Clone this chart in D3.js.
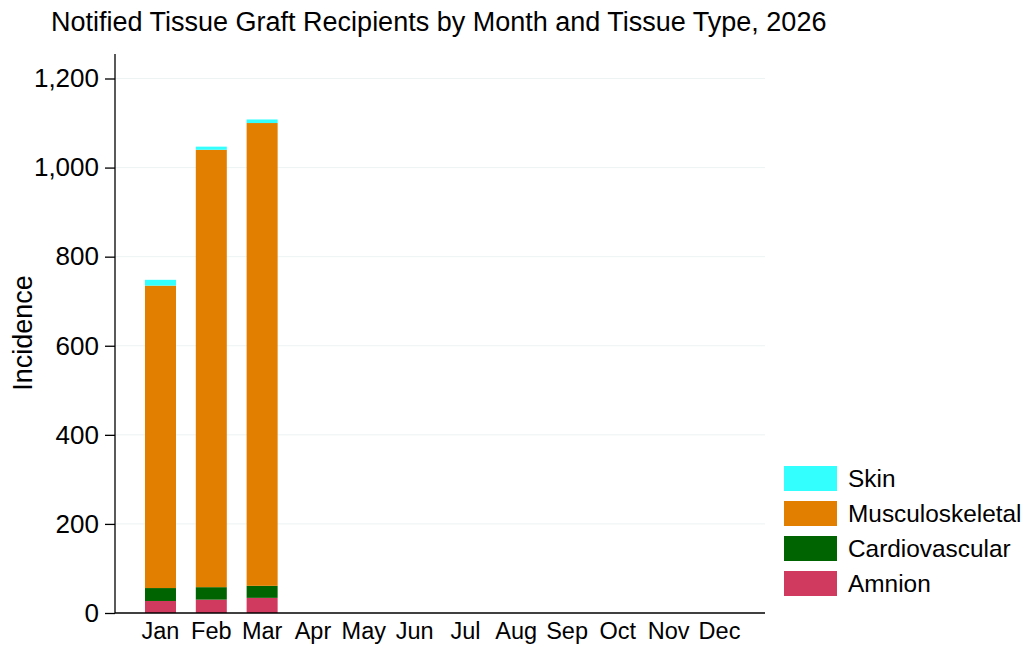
<!DOCTYPE html>
<html>
<head>
<meta charset="utf-8">
<script src="https://cdn.jsdelivr.net/npm/d3@7"></script>
<style>
  body { margin: 0; background: #fff; }
  text { font-family: "Liberation Sans", Arial, sans-serif; fill: #000; }
</style>
</head>
<body>
<svg id="chart" width="1024" height="647"></svg>
<script>
'use strict'

var months = ['Jan','Feb','Mar','Apr','May','Jun','Jul','Aug','Sep','Oct','Nov','Dec']
var tissueTypes = ['Amnion','Cardiovascular','Musculoskeletal','Skin']
var tissueColors = ['#cf3a5e','#006400','#e27e00','#33ffff']

// values, only Jan-Mar reported
var amnion          = [27, 30, 34]
var cardiovascular  = [29, 28, 27]
var musculoskeletal = [679, 982, 1039]
var skin            = [13, 7, 8]

var yTicks = [0, 200, 400, 600, 800, 1000, 1200]

var rows = months.map(function(m, i){
  return {
    month: m,
    Amnion: amnion[i] || 0,
    Cardiovascular: cardiovascular[i] || 0,
    Musculoskeletal: musculoskeletal[i] || 0,
    Skin: skin[i] || 0
  }
})

var svg = d3.select('#chart'),
    margin = {top: 54, right: 259, bottom: 34, left: 115},
    width = svg.attr('width') - margin.left - margin.right,
    height = svg.attr('height') - margin.top - margin.bottom

var x = d3.scaleBand()
    .domain(months)
    .range([0, width])
    .paddingInner(0.39)
    .paddingOuter(0.59)

var y = d3.scaleLinear()
    .domain([0, 1255])
    .range([height, 0])

var color = d3.scaleOrdinal().domain(tissueTypes).range(tissueColors)

var g = svg.append('g')
    .attr('transform', 'translate(' + margin.left + ',' + margin.top + ')')

// title
svg.append('text')
    .attr('x', 51)
    .attr('y', 31)
    .style('font-size', '27px')
    .text('Notified Tissue Graft Recipients by Month and Tissue Type, 2026')

// grid
g.append('g').selectAll('line')
  .data(yTicks.filter(function(d){ return d > 0 }))
  .enter().append('line')
    .attr('x1', 0).attr('x2', width)
    .attr('y1', function(d){ return y(d) })
    .attr('y2', function(d){ return y(d) })
    .attr('stroke', '#edf2f2')
    .attr('stroke-width', 1)

// stacked bars
var stack = d3.stack().keys(tissueTypes)(rows)

g.append('g').selectAll('g')
  .data(stack)
  .enter().append('g')
    .attr('fill', function(d){ return color(d.key) })
  .selectAll('rect')
  .data(function(d){ return d })
  .enter().append('rect')
    .attr('x', function(d){ return x(d.data.month) })
    .attr('width', x.bandwidth())
    .attr('y', function(d){ return y(d[1]) })
    .attr('height', function(d){ return y(d[0]) - y(d[1]) })

// y axis
var yAxis = g.append('g')
    .call(d3.axisLeft(y).tickValues(yTicks).tickFormat(d3.format(',')).tickSize(10).tickPadding(6))
yAxis.select('.domain').attr('d', 'M0,0V' + height).attr('stroke', '#000').attr('stroke-width', 1.3)
yAxis.selectAll('.tick line').attr('stroke', '#000').attr('stroke-width', 1.3)
yAxis.selectAll('text').style('font-size', '26px').style('font-family', '"Liberation Sans", Arial, sans-serif')

// x axis
var xAxis = g.append('g')
    .attr('transform', 'translate(0,' + height + ')')
    .call(d3.axisBottom(x).tickSize(0).tickPadding(9))
xAxis.select('.domain').attr('d', 'M0,0H' + width).attr('stroke', '#000').attr('stroke-width', 1.3)
xAxis.selectAll('text').style('font-size', '23.5px').style('font-family', '"Liberation Sans", Arial, sans-serif')

// y label
svg.append('text')
    .attr('transform', 'translate(32,333) rotate(-90)')
    .attr('text-anchor', 'middle')
    .style('font-size', '27px')
    .text('Incidence')

// legend, skin on top
var legend = svg.append('g')
    .attr('transform', 'translate(784,466)')

var legendItems = legend.selectAll('g')
  .data(tissueTypes.slice().reverse())
  .enter().append('g')
    .attr('transform', function(d, i){ return 'translate(0,' + (i * 35) + ')' })

legendItems.append('rect')
    .attr('width', 53)
    .attr('height', 25)
    .attr('fill', function(d){ return color(d) })

legendItems.append('text')
    .attr('x', 64)
    .attr('y', 21)
    .style('font-size', '24.4px')
    .text(function(d){ return d })
</script>
</body>
</html>
